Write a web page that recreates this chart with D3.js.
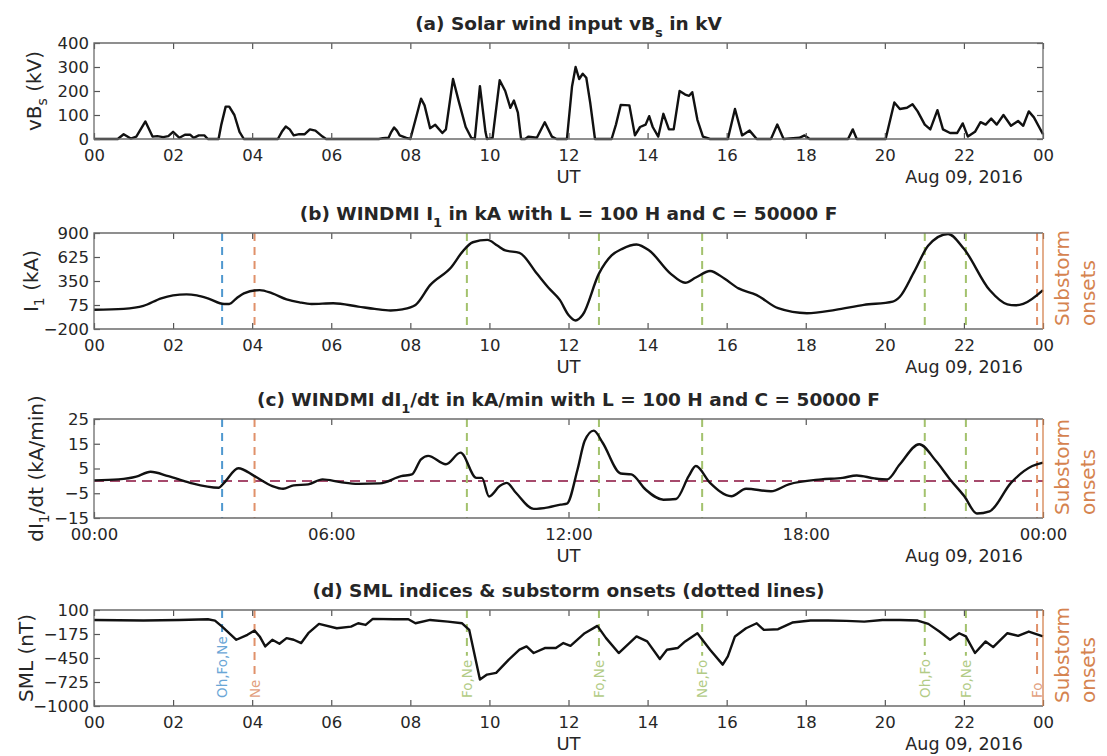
<!DOCTYPE html>
<html>
<head>
<meta charset="utf-8">
<script src="https://cdn.jsdelivr.net/npm/d3@7"></script>
<style>
  body { margin: 0; background: #fff; }
  svg { display: block; }
  text { font-family: "DejaVu Sans", sans-serif; fill: #262626; }
</style>
</head>
<body>
<svg id="chart" width="1107" height="756"></svg>
<script>
// ---- Data: hours since 00 UT on Aug 08, 2016 ----

// (a) solar wind input vBs, kV
const vbsTime = [0,0.6,0.75,0.93,1.07,1.3,1.48,1.6,1.75,1.88,2.0,2.16,2.3,2.43,2.52,2.65,2.79,2.88,3.15,3.22,3.33,3.42,3.55,3.68,3.79,
  4.65,4.75,4.85,4.95,5.05,5.19,5.33,5.46,5.6,5.78,5.87,7.2,7.3,7.45,7.52,7.59,7.66,7.73,7.9,8.0,8.13,8.27,8.36,8.5,8.63,8.81,8.9,
  9.08,9.22,9.4,9.54,9.63,9.76,9.9,9.94,10.08,10.26,10.4,10.53,10.62,10.72,10.8,10.9,10.99,11.2,11.4,11.58,11.7,11.96,12.09,12.18,
  12.27,12.36,12.45,12.55,12.67,13.09,13.2,13.32,13.54,13.68,13.81,13.95,14.04,14.13,14.27,14.4,14.54,14.66,14.81,14.95,15.05,15.13,
  15.26,15.4,15.58,16.03,16.21,16.39,16.58,16.76,17.12,17.28,17.44,17.84,17.97,18.1,19.07,19.19,19.29,20.02,20.24,20.38,20.56,20.7,
  20.83,21.01,21.15,21.33,21.47,21.65,21.83,21.97,22.1,22.28,22.42,22.55,22.69,22.83,23.0,23.19,23.37,23.5,23.64,23.77,24.0];
const vbsValue = [0,0,20,2,10,73,10,12,8,12,30,5,18,18,5,15,15,0,0,60,135,135,100,30,0,
  0,30,52,40,15,20,20,40,35,10,0,0,3,5,30,48,35,15,5,0,80,168,140,45,59,25,40,
  250,160,50,5,0,220,30,0,5,245,200,130,160,110,0,0,10,5,70,10,0,0,220,300,
  250,272,255,150,0,0,60,142,140,15,50,60,95,50,10,105,40,40,200,185,180,
  195,80,10,0,0,125,15,35,0,0,60,0,5,15,0,0,40,0,0,152,125,130,145,
  115,60,40,120,40,25,25,65,10,30,70,60,85,60,100,55,75,55,115,90,20];

// (b) WINDMI I1, kA
const i1Time = [0,0.75,1.25,1.7,2.0,2.34,2.6,2.88,3.29,3.42,3.6,3.79,4.19,4.51,4.87,5.2,5.5,6.05,6.68,7.1,7.5,7.8,8.13,8.5,
  9.04,9.31,9.58,9.95,10.2,10.4,10.76,11.2,11.5,11.78,12.0,12.18,12.36,12.77,13.09,13.36,13.72,14.04,14.58,14.95,15.22,15.58,
  15.94,16.3,16.76,17.3,18.03,18.75,19.47,20.2,20.38,20.74,21.1,21.6,22.0,22.65,23.1,23.3,23.5,24];
const i1Value = [20,31,65,152,185,197,185,152,87,87,150,208,246,208,140,105,87,95,57,30,12,25,76,303,
  511,681,794,821,756,700,673,435,270,133,-40,-102,-37,435,643,719,768,700,435,330,390,465,
  378,265,189,38,-19,19,76,114,170,454,756,889,719,246,82,72,88,246];

// (c) WINDMI dI1/dt, kA/min
const dI1Time = [0,0.62,1.07,1.43,1.88,2.43,3.15,3.29,3.65,4.06,4.51,4.78,5.05,5.42,5.78,6.23,6.68,7.23,7.77,8.04,8.27,8.45,
  8.9,9.27,9.67,9.81,9.99,10.26,10.44,10.67,11.12,11.49,11.8,11.96,12.23,12.41,12.64,12.86,13.32,13.59,13.95,14.4,14.72,15.04,
  15.22,15.58,16.12,16.49,17.12,17.57,18.39,18.93,19.29,19.74,20.06,20.38,20.87,21.29,21.65,22.01,22.33,22.65,23.19,23.73,24.0];
const dI1Value = [0.2,0.6,1.7,3.7,1.9,-0.8,-2.8,-0.8,5.1,1.9,-2.1,-3.2,-1.8,-1.4,0.6,-0.5,-1.2,-1.0,1.9,2.6,8.7,10.1,
  6.7,11.4,1.2,1.2,-6.3,-2.1,-0.8,-4.8,-11.3,-10.7,-9.6,-9.2,4.7,16.2,20.3,15.5,3.0,2.6,-3.5,-7.6,-7.3,1.9,
  6.0,-0.8,-6.2,-3.2,-4.2,-1.4,0.6,1.2,2.2,1.0,0.6,6.7,14.8,8.1,0.6,-6.2,-13.2,-12.3,-0.8,6.0,7.4];

// (d) SML index, nT
const smlTime = [0,1.25,2.16,2.88,3.06,3.24,3.6,3.88,4.06,4.19,4.33,4.51,4.69,4.87,5.05,5.24,5.42,5.69,6.14,6.5,6.68,6.87,
  7.05,7.59,7.95,8.13,8.5,8.95,9.31,9.49,9.76,9.94,10.17,10.49,10.76,10.94,11.12,11.4,11.68,11.87,12.05,12.41,12.73,12.95,
  13.27,13.72,13.99,14.31,14.49,14.76,14.95,15.26,15.58,15.9,16.03,16.21,16.49,16.76,16.94,17.3,17.66,18.12,18.57,19.03,
  19.48,19.94,20.38,20.83,21.1,21.38,21.65,21.88,22.05,22.28,22.55,22.74,23.1,23.37,23.64,24];
const smlValue = [-14,-21,-14,-6,-21,-90,-241,-184,-135,-203,-317,-241,-287,-222,-241,-279,-166,-59,-109,-90,-52,-71,
  -2,-6,-6,-52,-14,-33,-52,-128,-697,-640,-621,-469,-355,-317,-393,-336,-336,-279,-310,-166,-82,-222,
  -393,-203,-260,-461,-355,-336,-260,-166,-355,-526,-431,-203,-109,-52,-128,-120,-44,-21,-21,-25,
  -33,-14,-14,-21,-59,-147,-241,-166,-203,-393,-260,-325,-166,-196,-147,-203];

// Substorm onset times (h) and the onset lists that report each one
const onsetTime = [3.24, 4.06, 9.43, 12.77, 15.38, 21.01, 22.05, 23.85];
const onsetSources = ["Oh,Fo,Ne", "Ne", "Fo,Ne", "Fo,Ne", "Ne,Fo", "Oh,Fo", "Fo,Ne", "Fo"];

// Axis ticks and labels
const hourTicks = [0,2,4,6,8,10,12,14,16,18,20,22,24];
const hourTickLabels = ["00","02","04","06","08","10","12","14","16","18","20","22","00"];
const clockTicks = [0,6,12,18,24];
const clockTickLabels = ["00:00","06:00","12:00","18:00","00:00"];
const vbsTicks = [0,100,200,300,400];
const i1Ticks = [-200,75,350,625,900];
const dI1Ticks = [-15,-5,5,15,25];
const smlTicks = [-1000,-725,-450,-175,100];
const dateLabel = "Aug 09, 2016";

// ---- Layout ----
const svg = d3.select("#chart");
const L = 94, R = 1043;
const x = d3.scaleLinear().domain([0, 24]).range([L, R]);

const onsetColor = { 1: "#e0916a", 2: "#a3c26d", 3: "#4f98cf" };
const onsetTextColor = { 1: "#e2a07e", 2: "#b2cb86", 3: "#6aa6d6" };
const sideColor = "#d5834f";

const panels = [
  { top: 43, bottom: 139, t: vbsTime, v: vbsValue, ticks: vbsTicks, curve: d3.curveLinear,
    title: ["(a) Solar wind input vB", "s", " in kV"], ylab: ["vB", "s", " (kV)"], ylabX: 41,
    xt: hourTicks, xl: hourTickLabels, onsets: false },
  { top: 233, bottom: 329, t: i1Time, v: i1Value, ticks: i1Ticks, curve: d3.curveMonotoneX,
    title: ["(b) WINDMI I", "1", " in kA with L = 100 H and C = 50000 F"], ylab: ["I", "1", " (kA)"], ylabX: 38,
    xt: hourTicks, xl: hourTickLabels, onsets: "plain" },
  { top: 419, bottom: 518, t: dI1Time, v: dI1Value, ticks: dI1Ticks, curve: d3.curveMonotoneX,
    title: ["(c) WINDMI dI", "1", "/dt in kA/min with L = 100 H and C = 50000 F"], ylab: ["dI", "1", "/dt (kA/min)"], ylabX: 43,
    xt: clockTicks, xl: clockTickLabels, onsets: "plain", zeroLine: true },
  { top: 610, bottom: 706, t: smlTime, v: smlValue, ticks: smlTicks, curve: d3.curveLinear,
    title: ["(d) SML indices & substorm onsets (dotted lines)", "", ""], ylab: ["SML (nT)", "", ""], ylabX: 33,
    xt: hourTicks, xl: hourTickLabels, onsets: "labelled" }
];

function subText(sel, parts, subSize, shift) {
  sel.append("tspan").text(parts[0]);
  if (parts[1]) {
    sel.append("tspan").attr("font-size", subSize).attr("dy", shift).text(parts[1]);
    sel.append("tspan").attr("dy", -shift).text(parts[2]);
  }
}

panels.forEach(p => {
  const g = svg.append("g");
  const y = d3.scaleLinear().domain([p.ticks[0], p.ticks[p.ticks.length - 1]]).range([p.bottom, p.top]);

  // zero reference line
  if (p.zeroLine) {
    g.append("line").attr("x1", L).attr("x2", R).attr("y1", y(0)).attr("y2", y(0))
      .attr("stroke", "#a64a6c").attr("stroke-width", 2).attr("stroke-dasharray", "10,6");
  }

  // substorm onset markers
  if (p.onsets) {
    onsetTime.forEach((t, i) => {
      const n = onsetSources[i].split(",").length;
      if (p.onsets === "labelled") {
        const lab = g.append("text")
          .attr("transform", `translate(${x(t)},${p.bottom - 8}) rotate(-90)`)
          .attr("text-anchor", "start").attr("dominant-baseline", "central")
          .attr("font-size", 13.5).style("fill", onsetTextColor[n])
          .text(onsetSources[i]);
        const len = lab.node().getComputedTextLength();
        g.append("line").attr("x1", x(t)).attr("x2", x(t))
          .attr("y1", p.top).attr("y2", p.bottom - 8 - len - 4)
          .attr("stroke", onsetColor[n]).attr("stroke-width", 2).attr("stroke-dasharray", "8,6");
      } else {
        g.append("line").attr("x1", x(t)).attr("x2", x(t))
          .attr("y1", p.top).attr("y2", p.bottom)
          .attr("stroke", onsetColor[n]).attr("stroke-width", 2).attr("stroke-dasharray", "8,6");
      }
    });
  }

  // data trace
  const line = d3.line().x(d => x(d[0])).y(d => y(d[1])).curve(p.curve);
  g.append("path").datum(d3.zip(p.t, p.v)).attr("d", line)
    .attr("fill", "none").attr("stroke", "#111").attr("stroke-width", 2.4)
    .attr("stroke-linejoin", "round");

  // axes with inward ticks
  const fmtX = (d, i) => p.xl[i];
  g.append("g").attr("transform", `translate(0,${p.bottom})`)
    .call(d3.axisBottom(x).tickValues(p.xt).tickFormat(fmtX).tickSize(-6).tickPadding(10));
  g.append("g").attr("transform", `translate(0,${p.top})`)
    .call(d3.axisTop(x).tickValues(p.xt).tickFormat("").tickSize(-6));
  g.append("g").attr("transform", `translate(${L},0)`)
    .call(d3.axisLeft(y).tickValues(p.ticks).tickFormat(d3.format("d")).tickSize(-6).tickPadding(5));
  if (!p.onsets) {
    g.append("g").attr("transform", `translate(${R},0)`)
      .call(d3.axisRight(y).tickValues(p.ticks).tickFormat("").tickSize(-6));
  }
  g.selectAll(".domain").remove();
  g.selectAll(".tick line").attr("stroke", "#555").attr("stroke-width", 1.2);
  g.selectAll(".tick text").attr("font-size", 16.5).attr("font-family", "DejaVu Sans").style("fill", "#262626");

  // frame
  g.append("path").attr("d", `M${R},${p.top}H${L}V${p.bottom}H${R}`)
    .attr("fill", "none").attr("stroke", "#6b6b6b").attr("stroke-width", 1.3);
  g.append("line").attr("x1", R).attr("x2", R).attr("y1", p.top).attr("y2", p.bottom)
    .attr("stroke", p.onsets ? sideColor : "#6b6b6b").attr("stroke-width", 1.3);

  // title
  const title = g.append("text").attr("x", (L + R) / 2).attr("y", p.top - 13)
    .attr("text-anchor", "middle").attr("font-weight", "bold").attr("font-size", 18.5);
  subText(title, p.title, 13, 7);

  // y label
  const yl = g.append("text")
    .attr("transform", `translate(${p.ylabX},${(p.top + p.bottom) / 2}) rotate(-90)`)
    .attr("text-anchor", "middle").attr("font-size", 20);
  subText(yl, p.ylab, 14, 6);

  // x label and date
  g.append("text").attr("x", (L + R) / 2).attr("y", p.bottom + 44)
    .attr("text-anchor", "middle").attr("font-size", 18).text("UT");
  g.append("text").attr("x", R - 20).attr("y", p.bottom + 44)
    .attr("text-anchor", "end").attr("font-size", 17.5).text(dateLabel);

  // right-hand onset caption
  if (p.onsets) {
    g.append("text").attr("transform", `translate(1069,${p.bottom - 3}) rotate(-90)`)
      .attr("font-size", 20).style("fill", sideColor).text("Substorm");
    g.append("text").attr("transform", `translate(1095,${p.bottom - 3}) rotate(-90)`)
      .attr("font-size", 20).style("fill", sideColor).text("onsets");
  }
});
</script>
</body>
</html>
